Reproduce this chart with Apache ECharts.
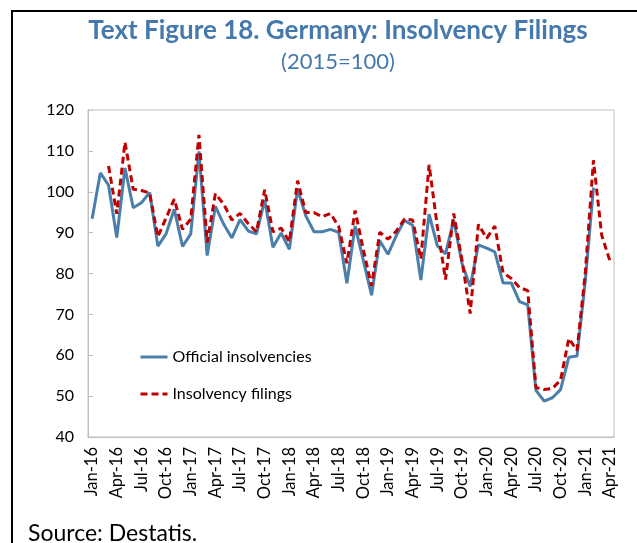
<!DOCTYPE html>
<html lang="en" style="height: 100%">
<head>
  <meta charset="utf-8">
  <script src="https://cdn.jsdelivr.net/npm/echarts@6/dist/echarts.min.js"></script>
</head>
<body style="height: 100%; margin: 0; background: #fff">
  <div id="container" style="width: 637px; height: 543px"></div>

  <script type="text/javascript">
    // month labels Jan-16 .. Apr-21
    var monthNames = ['Jan', 'Feb', 'Mar', 'Apr', 'May', 'Jun', 'Jul', 'Aug', 'Sep', 'Oct', 'Nov', 'Dec'];
    var years = ['16', '17', '18', '19', '20', '21'];
    var months = [];
    for (var y = 0; y < years.length; y++) {
      for (var m = 0; m < 12; m++) {
        if (years[y] === '21' && m > 3) break;
        months.push(monthNames[m] + '-' + years[y]);
      }
    }

    var yTicks = [40, 50, 60, 70, 80, 90, 100, 110, 120];

    // Official insolvencies, 2015=100
    var official = [
      93.4, 104.6, 101.6, 88.8, 105.8, 96.1, 97.3, 99.8, 86.7, 89.7, 95.7, 86.6,
      89.7, 109.9, 84.4, 96.4, 92.1, 88.7, 93.2, 90.4, 89.7, 98.0, 86.4, 89.9,
      85.9, 100.6, 94.1, 90.2, 90.2, 90.8, 90.1, 77.6, 91.6, 83.2, 74.7, 88.0,
      84.7, 89.2, 93.0, 91.8, 78.4, 94.5, 86.8, 84.8, 93.1, 82.5, 76.8, 87.0,
      86.2, 85.3, 77.7, 77.7, 73.1, 72.3, 51.4, 48.8, 49.6, 51.6, 59.5, 59.8,
      78.0, 101.0, null, null
    ];

    // Insolvency filings, 2015=100
    var filings = [
      null, null, 106.3, 94.6, 112.1, 100.6, 100.3, 99.7, 89.0, 93.6, 98.2, 90.8,
      93.3, 113.9, 87.6, 99.5, 97.0, 93.1, 94.7, 92.2, 90.2, 100.5, 90.2, 91.1,
      87.8, 102.7, 94.9, 94.9, 93.9, 94.7, 91.5, 82.5, 95.4, 85.8, 77.0, 90.1,
      88.4, 90.3, 93.3, 93.1, 83.6, 106.6, 91.5, 78.5, 94.7, 83.3, 70.2, 92.0,
      88.6, 91.6, 80.2, 78.8, 76.6, 75.8, 52.1, 51.6, 51.9, 53.9, 64.1, 61.2,
      80.0, 107.7, 89.4, 83.1
    ];

    var dom = document.getElementById('container');
    var myChart = echarts.init(dom, null, { renderer: 'canvas' });

    var fontFamily = 'Lato, "Open Sans", sans-serif';
    var axisGrey = '#bfbfbf';

    var option = {
      backgroundColor: '#fff',
      textStyle: { fontFamily: fontFamily },
      title: {
        text: 'Text Figure 18. Germany: Insolvency Filings',
        subtext: '(2015=100)',
        left: 333,
        textAlign: 'center',
        top: 13,
        itemGap: 7,
        textStyle: { fontFamily: fontFamily, fontSize: 26, fontWeight: 'bold', color: '#4579ad' },
        subtextStyle: { fontFamily: fontFamily, fontSize: 22, color: '#4579ad' }
      },
      legend: {
        orient: 'vertical',
        left: 134,
        top: 344,
        itemWidth: 27,
        itemHeight: 14,
        itemGap: 21,
        itemStyle: { opacity: 0 },
        lineStyle: { width: 3 },
        textStyle: { fontFamily: fontFamily, fontSize: 16, color: '#000' },
        data: ['Official insolvencies', 'Insolvency filings']
      },
      grid: {
        left: 88,
        right: 23,
        top: 110,
        bottom: 106,
        show: true,
        borderColor: axisGrey,
        borderWidth: 1
      },
      xAxis: {
        type: 'category',
        data: months,
        boundaryGap: true,
        axisLine: { lineStyle: { color: axisGrey } },
        axisTick: { inside: true, length: 5, interval: 2, lineStyle: { color: axisGrey } },
        axisLabel: { interval: 2, rotate: 90, margin: 10, fontSize: 16.5, color: '#000', fontFamily: fontFamily },
        splitLine: { show: false }
      },
      yAxis: {
        type: 'value',
        min: yTicks[0],
        max: yTicks[yTicks.length - 1],
        interval: 10,
        axisLine: { show: true, lineStyle: { color: axisGrey } },
        axisTick: { show: true, inside: true, length: 5, lineStyle: { color: axisGrey } },
        axisLabel: { margin: 14, fontSize: 16, color: '#000', fontFamily: fontFamily },
        splitLine: { show: false }
      },
      series: [
        {
          name: 'Official insolvencies',
          type: 'line',
          data: official,
          symbol: 'none',
          color: '#4a7eab',
          lineStyle: { width: 3, color: '#4a7eab' }
        },
        {
          name: 'Insolvency filings',
          type: 'line',
          data: filings,
          symbol: 'none',
          color: '#c00000',
          lineStyle: { width: 3, color: '#c00000', type: [7, 4] }
        }
      ],
      graphic: [
        {
          type: 'rect',
          shape: { x: 12, y: 11, width: 700, height: 600 },
          style: { fill: 'none', stroke: '#000', lineWidth: 2 },
          silent: true
        },
        {
          type: 'text',
          left: 28,
          top: 522,
          style: { text: 'Source: Destatis.', font: '23px ' + fontFamily, fill: '#000' }
        }
      ]
    };

    myChart.setOption(option);
    window.addEventListener('resize', myChart.resize);
  </script>
</body>
</html>
